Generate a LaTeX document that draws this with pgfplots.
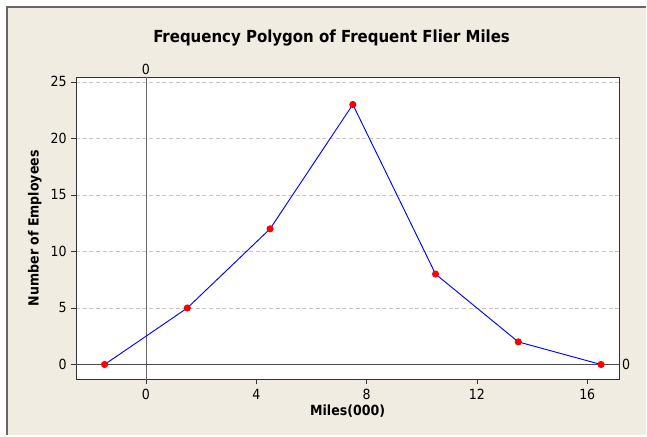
\documentclass[border=0pt]{standalone}
\usepackage{fontspec}
\setmainfont{DejaVu Sans Condensed}
\usepackage{pgfplots}
\pgfplotsset{compat=1.18}
\definecolor{bg}{RGB}{240,236,226}
% one reference pixel
\newcommand{\px}{0.75pt}
\begin{document}
\begin{tikzpicture}
% page and frame
\fill[white] (0,0) rectangle ({647*\px},{436*\px});
\fill[bg] ({7*\px},0) rectangle ({647*\px},{429*\px});
\draw[black!60, line width=1.2pt] ({7*\px},0) -- ({7*\px},{429*\px}) -- ({647*\px},{429*\px});
\node[font=\bfseries\fontsize{12.5}{14}\selectfont] at ({332*\px},{398*\px}) {Frequency Polygon of Frequent Flier Miles};
\begin{axis}[
  at={({76*\px},{56*\px})}, anchor=south west,
  width=408pt, height=227.25pt, scale only axis,
  xmin=-2.54, xmax=17.16, ymin=-1.33, ymax=25.44,
  xtick={0,4,8,12,16}, ytick={0,5,...,25},
  tick align=outside, xtick pos=bottom, ytick pos=left,
  major tick length=3.5pt,
  tick style={black!80},
  ymajorgrids, grid style={densely dashed, gray!45},
  axis line style={black!80},
  axis background/.style={fill=white},
  ticklabel style={font=\fontsize{10.5}{12}\selectfont},
  /pgf/number format/assume math mode=true,
  xlabel={Miles(000)}, ylabel={Number of Employees},
  every axis x label/.style={at={(axis description cs:0.5,-0.1056)}, anchor=center,
    font=\bfseries\fontsize{10.5}{12}\selectfont},
  every axis y label/.style={at={(axis description cs:-0.0754,0.5)}, rotate=90, anchor=center,
    font=\bfseries\fontsize{10.5}{12}\selectfont},
  clip=false,
]
% reference lines at 0
\draw[black!60] (axis cs:0,-1.33) -- (axis cs:0,25.44);
\draw[black!70] (axis cs:-2.54,0) -- (axis cs:17.16,0);
\node[anchor=south, inner sep=1.5pt, font=\fontsize{10.5}{12}\selectfont] at (axis cs:0,25.44) {0};
\node[anchor=west, inner sep=2pt, font=\fontsize{10.5}{12}\selectfont] at (axis cs:17.16,0) {0};

\addplot[blue, line width=0.7pt, mark=*, mark size=2.3pt,
  mark options={fill=red, draw=red}] coordinates {
  (-1.5,0) (1.5,5) (4.5,12) (7.5,23) (10.5,8) (13.5,2) (16.5,0)
};
\end{axis}
\end{tikzpicture}
\end{document}
